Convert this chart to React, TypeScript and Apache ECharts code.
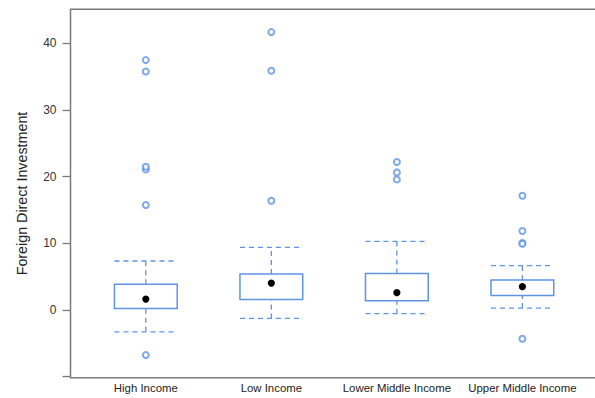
import React, { useEffect, useRef } from "react";
import * as echarts from "echarts";

// Income groups and five-number summaries of foreign direct investment
const categories = ["High Income", "Low Income", "Lower Middle Income", "Upper Middle Income"];
const whiskerLow = [-3.26, -1.25, -0.55, 0.3];
const lowerQuartile = [0.25, 1.6, 1.4, 2.2];
const medians = [1.65, 4.05, 2.6, 3.5];
const upperQuartile = [3.86, 5.4, 5.5, 4.5];
const whiskerHigh = [7.36, 9.4, 10.3, 6.65];
const outliers = [
  [-6.76, 15.77, 21.1, 21.5, 35.8, 37.5],
  [41.7, 35.9, 16.4],
  [22.2, 20.65, 19.6],
  [17.15, 11.85, 10.05, 9.95, -4.3],
];
const yTicks = [-10, 0, 10, 20, 30, 40];
const yLabels = [0, 10, 20, 30, 40];

const BLUE = "#5f93e6";
const FRAME = "#7a7a7a";
const FONT = "Liberation Sans, Arial, sans-serif";

export default function App() {
  const ref = useRef<HTMLDivElement>(null);

  useEffect(() => {
    if (!ref.current) return;
    const chart = echarts.init(ref.current, undefined, { renderer: "svg" });

    const boxData = categories.map((_, i) => [
      i + 1,
      whiskerLow[i],
      lowerQuartile[i],
      medians[i],
      upperQuartile[i],
      whiskerHigh[i],
    ]);
    const outlierData: number[][] = [];
    outliers.forEach((vals, i) => vals.forEach((v) => outlierData.push([i + 1, v])));

    const dash = { stroke: BLUE, lineWidth: 1.3, lineDash: [5, 4] };

    chart.setOption({
      animation: false,
      grid: {
        left: 70.5,
        top: 9.3,
        right: 2.3,
        bottom: 20.3,
        show: true,
        borderColor: FRAME,
        borderWidth: 1.5,
        backgroundColor: "transparent",
      },
      xAxis: {
        type: "value",
        min: 0.4,
        max: 4.6,
        axisLine: { show: false },
        axisTick: { show: false },
        splitLine: { show: false },
        axisLabel: {
          customValues: [1, 2, 3, 4],
          formatter: (v: number) => categories[Math.round(v) - 1] ?? "",
          fontFamily: FONT,
          fontSize: 11.4,
          color: "#222",
          margin: 5,
        },
      },
      yAxis: {
        type: "value",
        min: -10.15,
        max: 45.12,
        name: "Foreign Direct Investment",
        nameLocation: "middle",
        nameGap: 42,
        nameRotate: 90,
        nameTextStyle: { fontFamily: FONT, fontSize: 14.3, color: "#222" },
        axisLine: { show: false },
        splitLine: { show: false },
        axisTick: {
          customValues: yTicks,
          length: 8,
          lineStyle: { color: FRAME, width: 1.3 },
        },
        axisLabel: {
          customValues: yLabels,
          fontFamily: FONT,
          fontSize: 12,
          color: "#333",
          margin: 14,
        },
      },
      series: [
        {
          type: "custom",
          data: boxData,
          encode: { x: 0, y: [1, 2, 3, 4, 5] },
          renderItem: (_params: any, api: any) => {
            const x = api.value(0);
            const half = api.size([0.5, 0])[0] / 2;
            const pLow = api.coord([x, api.value(1)]);
            const pQ1 = api.coord([x, api.value(2)]);
            const pMed = api.coord([x, api.value(3)]);
            const pQ3 = api.coord([x, api.value(4)]);
            const pHigh = api.coord([x, api.value(5)]);
            const cx = pMed[0];
            return {
              type: "group",
              children: [
                { type: "line", shape: { x1: cx, y1: pLow[1], x2: cx, y2: pQ1[1] }, style: dash },
                { type: "line", shape: { x1: cx, y1: pQ3[1], x2: cx, y2: pHigh[1] }, style: dash },
                { type: "line", shape: { x1: cx - half, y1: pLow[1], x2: cx + half, y2: pLow[1] }, style: dash },
                { type: "line", shape: { x1: cx - half, y1: pHigh[1], x2: cx + half, y2: pHigh[1] }, style: dash },
                {
                  type: "rect",
                  shape: { x: cx - half, y: pQ3[1], width: half * 2, height: pQ1[1] - pQ3[1] },
                  style: { fill: "#fff", stroke: BLUE, lineWidth: 1.5 },
                },
                { type: "circle", shape: { cx, cy: pMed[1], r: 3.6 }, style: { fill: "#000" } },
              ],
            };
          },
        },
        {
          type: "scatter",
          data: outlierData,
          symbol: "emptyCircle",
          symbolSize: 6,
          itemStyle: { color: BLUE, borderColor: BLUE, borderWidth: 1.1 },
        },
      ],
    });

    return () => chart.dispose();
  }, []);

  return (
    <div
      ref={ref}
      style={{ position: "fixed", left: 0, top: 0, width: 600, height: 398, background: "#fff" }}
    />
  );
}
